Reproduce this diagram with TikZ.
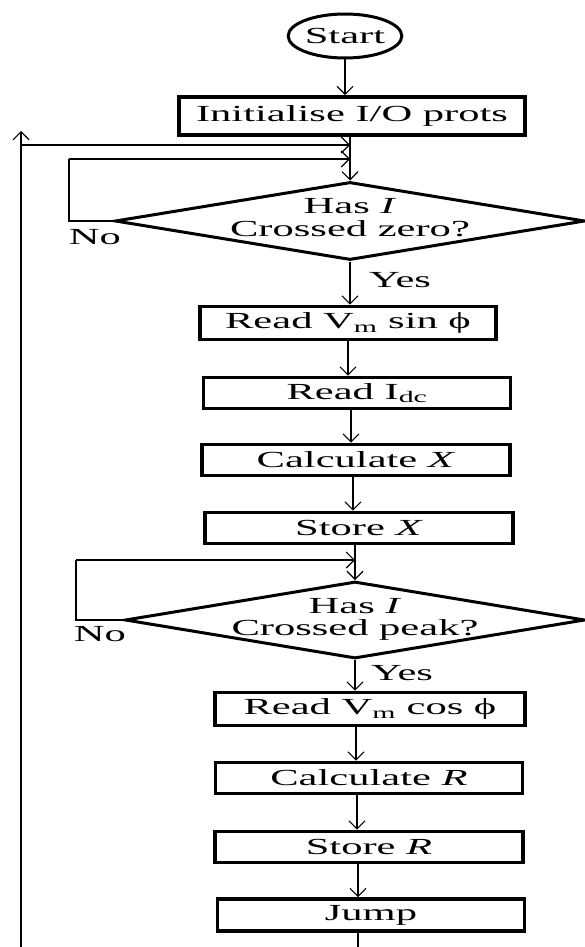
\documentclass[tikz,border=0pt]{standalone}
\usepackage{fontspec}
\setmainfont{Liberation Serif}[FakeStretch=1.85]
\usetikzlibrary{shapes.geometric,arrows.meta}
\begin{document}
\begin{tikzpicture}[x=1pt,y=-1pt,
  every node/.style={font=\fontsize{23}{27}\selectfont},
  procbox/.style={draw,line width=3.6pt,rectangle,inner sep=0pt},
  decbox/.style={draw,line width=3pt,diamond,inner sep=0pt},
  dectext/.style={anchor=base,inner sep=0pt},
  arr/.style={-{Straight Barb[length=8pt,width=16pt,line width=1.2pt]},line width=1.2pt},
  conn/.style={line width=1.2pt},
  lbl/.style={inner sep=0pt}]
\useasboundingbox (0,0) rectangle (584,947);
\node[draw,ellipse,line width=3pt,minimum width=94pt,minimum height=44pt,inner sep=0pt] (start) at (345,36) {Start};
\node[procbox,minimum width=346pt,minimum height=38pt] (init) at (352,116) {Initialise I/O prots};
\node[decbox,minimum width=470pt,minimum height=78pt] (d1) at (350,221) {};
\node[dectext] (d1a) at (350,213) {Has \textit{I}};
\node[dectext] (d1b) at (350,236) {Crossed zero?};
\node[procbox,minimum width=296pt,minimum height=33pt] (b1) at (348,323) {Read V\textsubscript{m} sin ϕ};
\node[procbox,minimum width=307pt,minimum height=31pt] (b2) at (357,393) {Read I\textsubscript{dc}};
\node[procbox,minimum width=308pt,minimum height=31pt] (b3) at (356,460) {Calculate \textit{X}};
\node[procbox,minimum width=308pt,minimum height=31pt] (b4) at (359,528) {Store \textit{X}};
\node[decbox,minimum width=460pt,minimum height=77pt] (d2) at (355,620) {};
\node[dectext] (d2a) at (355,613) {Has \textit{I}};
\node[dectext] (d2b) at (355,635) {Crossed peak?};
\node[procbox,minimum width=310pt,minimum height=33pt] (b5) at (370,709) {Read V\textsubscript{m} cos ϕ};
\node[procbox,minimum width=307pt,minimum height=31pt] (b6) at (369,778) {Calculate \textit{R}};
\node[procbox,minimum width=308pt,minimum height=31pt] (b7) at (369,847) {Store \textit{R}};
\node[procbox,minimum width=307pt,minimum height=32pt] (b8) at (371,915) {Jump};
\node[lbl] (no1) at (95,237) {No};
\node[lbl] (yes1) at (400,280) {Yes};
\node[lbl] (no2) at (100,634) {No};
\node[lbl] (yes2) at (402,673) {Yes};
% coordinates
\coordinate (Lbot) at (21,947);
\coordinate (Ltop) at (21,131);
\coordinate (Lh) at (21,145);
\coordinate (Mh) at (350,145);
\coordinate (loop1c) at (69,221);
\coordinate (loop1t) at (69,159);
\coordinate (M1) at (350,159);
\coordinate (loop2c) at (76,620);
\coordinate (loop2t) at (76,560);
\coordinate (M2) at (355,560);
\coordinate (Jend) at (358,947);
% connectors
\draw[arr] (start) -- (start |- init.north);
\draw[arr,line width=2pt] (Lbot) -- (Ltop);
\draw[arr] (Lh) -- (Mh);
\draw[conn,line width=1.6pt] (d1.west) -- (loop1c) -- (loop1t);
\draw[arr] (loop1t) -- (M1);
\draw[arr] (init.south -| d1.north) -- (d1.north);
\draw[arr] (d1.south) -- (d1.south |- b1.north);
\draw[arr] (b1.south) -- (b1.south |- b2.north);
\draw[arr] (b2.south -| 351,0) -- (351,0 |- b3.north);
\draw[arr] (b3.south -| 353,0) -- (353,0 |- b4.north);
\draw[arr] (b4.south -| d2.north) -- (d2.north);
\draw[conn,line width=1.6pt] (d2.west) -- (loop2c) -- (loop2t);
\draw[arr] (loop2t) -- (M2);
\draw[arr] (d2.south) -- (d2.south |- b5.north);
\draw[arr] (b5.south -| 356,0) -- (356,0 |- b6.north);
\draw[arr] (b6.south -| 357,0) -- (357,0 |- b7.north);
\draw[arr] (b7.south -| 358,0) -- (358,0 |- b8.north);
\draw[conn] (b8.south -| Jend) -- (Jend);
\end{tikzpicture}
\end{document}
